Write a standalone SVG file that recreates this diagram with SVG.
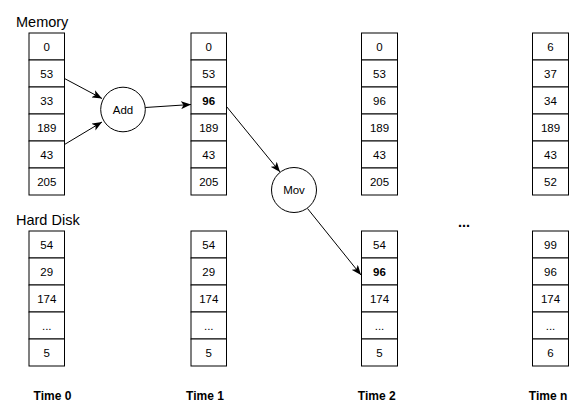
<svg xmlns="http://www.w3.org/2000/svg" width="584" height="413" viewBox="0 0 584 413">
<defs>
<style>
.cell{fill:#fff;stroke:#000;stroke-width:1}
.t{font-family:"Liberation Sans",Arial,Helvetica,sans-serif;font-size:11.5px;fill:#000;text-anchor:middle}
.b{font-weight:bold}
.lbl{font-family:"Liberation Sans",Arial,Helvetica,sans-serif;font-size:14.5px;fill:#000}
.time{font-family:"Liberation Sans",Arial,Helvetica,sans-serif;font-size:12px;font-weight:bold;fill:#000;text-anchor:middle}
.op{fill:#fff;stroke:#000;stroke-width:1}
.edge{fill:none;stroke:#000;stroke-width:1;marker-end:url(#arr)}
</style>
<marker id="arr" markerUnits="userSpaceOnUse" markerWidth="11" markerHeight="8" refX="10" refY="4" orient="auto">
<path d="M0,0 L10,4 L0,8 L2.5,4 Z" fill="#000"/>
</marker>
</defs>
<rect width="584" height="413" fill="#fff"/>

<text class="lbl" x="16" y="27">Memory</text>
<text class="lbl" x="16" y="225">Hard Disk</text>

<g id="mem0">
<rect class="cell" x="29" y="33" width="35.5" height="27"/><text class="t" x="46.75" y="50.5">0</text>
<rect class="cell" x="29" y="60" width="35.5" height="27"/><text class="t" x="46.75" y="77.5">53</text>
<rect class="cell" x="29" y="87" width="35.5" height="27"/><text class="t" x="46.75" y="104.5">33</text>
<rect class="cell" x="29" y="114" width="35.5" height="27"/><text class="t" x="46.75" y="131.5">189</text>
<rect class="cell" x="29" y="141" width="35.5" height="27"/><text class="t" x="46.75" y="158.5">43</text>
<rect class="cell" x="29" y="168" width="35.5" height="27"/><text class="t" x="46.75" y="185.5">205</text>
</g>
<g id="disk0">
<rect class="cell" x="29" y="231" width="35.5" height="27"/><text class="t" x="46.75" y="248.5">54</text>
<rect class="cell" x="29" y="258" width="35.5" height="27"/><text class="t" x="46.75" y="275.5">29</text>
<rect class="cell" x="29" y="285" width="35.5" height="27"/><text class="t" x="46.75" y="302.5">174</text>
<rect class="cell" x="29" y="312" width="35.5" height="27"/><text class="t" x="46.75" y="329.5">...</text>
<rect class="cell" x="29" y="339" width="35.5" height="27"/><text class="t" x="46.75" y="356.5">5</text>
</g>

<g id="mem1">
<rect class="cell" x="191" y="33" width="35.5" height="27"/><text class="t" x="208.75" y="50.5">0</text>
<rect class="cell" x="191" y="60" width="35.5" height="27"/><text class="t" x="208.75" y="77.5">53</text>
<rect class="cell" x="191" y="87" width="35.5" height="27"/><text class="t b" x="208.75" y="104.5">96</text>
<rect class="cell" x="191" y="114" width="35.5" height="27"/><text class="t" x="208.75" y="131.5">189</text>
<rect class="cell" x="191" y="141" width="35.5" height="27"/><text class="t" x="208.75" y="158.5">43</text>
<rect class="cell" x="191" y="168" width="35.5" height="27"/><text class="t" x="208.75" y="185.5">205</text>
</g>
<g id="disk1">
<rect class="cell" x="191" y="231" width="35.5" height="27"/><text class="t" x="208.75" y="248.5">54</text>
<rect class="cell" x="191" y="258" width="35.5" height="27"/><text class="t" x="208.75" y="275.5">29</text>
<rect class="cell" x="191" y="285" width="35.5" height="27"/><text class="t" x="208.75" y="302.5">174</text>
<rect class="cell" x="191" y="312" width="35.5" height="27"/><text class="t" x="208.75" y="329.5">...</text>
<rect class="cell" x="191" y="339" width="35.5" height="27"/><text class="t" x="208.75" y="356.5">5</text>
</g>

<g id="mem2">
<rect class="cell" x="361.5" y="33" width="36" height="27"/><text class="t" x="379.5" y="50.5">0</text>
<rect class="cell" x="361.5" y="60" width="36" height="27"/><text class="t" x="379.5" y="77.5">53</text>
<rect class="cell" x="361.5" y="87" width="36" height="27"/><text class="t" x="379.5" y="104.5">96</text>
<rect class="cell" x="361.5" y="114" width="36" height="27"/><text class="t" x="379.5" y="131.5">189</text>
<rect class="cell" x="361.5" y="141" width="36" height="27"/><text class="t" x="379.5" y="158.5">43</text>
<rect class="cell" x="361.5" y="168" width="36" height="27"/><text class="t" x="379.5" y="185.5">205</text>
</g>
<g id="disk2">
<rect class="cell" x="361.5" y="231" width="36" height="27"/><text class="t" x="379.5" y="248.5">54</text>
<rect class="cell" x="361.5" y="258" width="36" height="27"/><text class="t b" x="379.5" y="275.5">96</text>
<rect class="cell" x="361.5" y="285" width="36" height="27"/><text class="t" x="379.5" y="302.5">174</text>
<rect class="cell" x="361.5" y="312" width="36" height="27"/><text class="t" x="379.5" y="329.5">...</text>
<rect class="cell" x="361.5" y="339" width="36" height="27"/><text class="t" x="379.5" y="356.5">5</text>
</g>

<g id="memn">
<rect class="cell" x="532.5" y="33" width="36" height="27"/><text class="t" x="550.5" y="50.5">6</text>
<rect class="cell" x="532.5" y="60" width="36" height="27"/><text class="t" x="550.5" y="77.5">37</text>
<rect class="cell" x="532.5" y="87" width="36" height="27"/><text class="t" x="550.5" y="104.5">34</text>
<rect class="cell" x="532.5" y="114" width="36" height="27"/><text class="t" x="550.5" y="131.5">189</text>
<rect class="cell" x="532.5" y="141" width="36" height="27"/><text class="t" x="550.5" y="158.5">43</text>
<rect class="cell" x="532.5" y="168" width="36" height="27"/><text class="t" x="550.5" y="185.5">52</text>
</g>
<g id="diskn">
<rect class="cell" x="532.5" y="231" width="36" height="27"/><text class="t" x="550.5" y="248.5">99</text>
<rect class="cell" x="532.5" y="258" width="36" height="27"/><text class="t" x="550.5" y="275.5">96</text>
<rect class="cell" x="532.5" y="285" width="36" height="27"/><text class="t" x="550.5" y="302.5">174</text>
<rect class="cell" x="532.5" y="312" width="36" height="27"/><text class="t" x="550.5" y="329.5">...</text>
<rect class="cell" x="532.5" y="339" width="36" height="27"/><text class="t" x="550.5" y="356.5">6</text>
</g>

<g id="add">
<circle class="op" cx="123" cy="109.5" r="22.3"/>
<text class="t" x="123" y="113.5">Add</text>
</g>
<g id="mov">
<circle class="op" cx="294" cy="190" r="22.5"/>
<text class="t" x="294" y="194">Mov</text>
</g>

<g id="connectors">
<line class="edge" x1="64.5" y1="78.5" x2="102" y2="98.5"/>
<line class="edge" x1="64.5" y1="144.5" x2="102" y2="122"/>
<line class="edge" x1="145.3" y1="107.5" x2="191" y2="104.5"/>
<line class="edge" x1="226.5" y1="106.5" x2="280" y2="172"/>
<line class="edge" x1="307.5" y1="208.5" x2="361" y2="275"/>
</g>

<text class="lbl b" x="464" y="227" text-anchor="middle">...</text>

<text class="time" x="52.5" y="399.5">Time 0</text>
<text class="time" x="205" y="399.5">Time 1</text>
<text class="time" x="376.7" y="399.5">Time 2</text>
<text class="time" x="548" y="399.5">Time n</text>
</svg>
